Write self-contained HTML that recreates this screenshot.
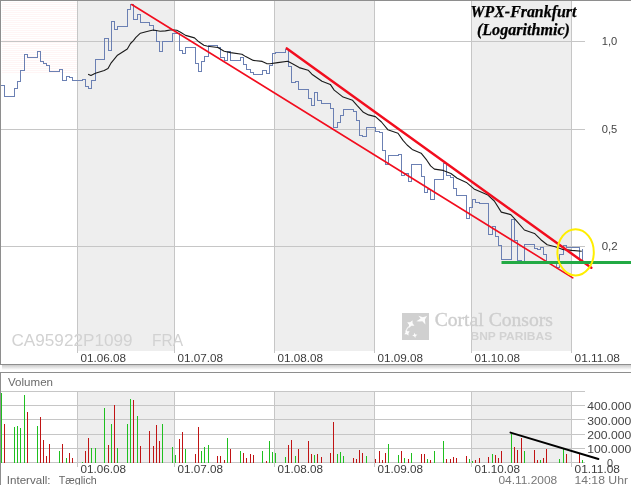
<!DOCTYPE html>
<html><head><meta charset="utf-8"><title>WPX-Frankfurt</title>
<style>html,body{margin:0;padding:0;background:#fff;overflow:hidden}body{width:631px;height:485px;position:relative;font-family:"Liberation Sans",sans-serif}</style></head>
<body>
<svg width="631" height="485" viewBox="0 0 631 485" style="position:absolute;left:0;top:0;display:block;will-change:transform" shape-rendering="auto">
<rect x="0" y="0" width="631" height="485" fill="#fff"/>
<defs><pattern id="pk" x="0" y="0" width="4" height="2" patternUnits="userSpaceOnUse"><rect x="0" y="0" width="4" height="1" fill="#fff5f5"/></pattern></defs>
<rect x="2" y="2" width="75" height="72" fill="url(#pk)"/>
<rect x="78" y="1" width="96" height="350" fill="#eeeeee"/>
<rect x="78" y="392" width="96" height="71" fill="#eeeeee"/>
<rect x="275" y="1" width="99" height="350" fill="#eeeeee"/>
<rect x="275" y="392" width="99" height="71" fill="#eeeeee"/>
<rect x="472" y="1" width="99" height="350" fill="#eeeeee"/>
<rect x="472" y="392" width="99" height="71" fill="#eeeeee"/>
<g stroke="#c6c6c6" stroke-width="1" fill="none" shape-rendering="crispEdges">
<path d="M1,41.5H585"/>
<path d="M1,129.5H585"/>
<path d="M1,246.5H585"/>
<path d="M77.5,1V353"/>
<path d="M77.5,391V467"/>
<path d="M174.5,1V353"/>
<path d="M174.5,391V467"/>
<path d="M274.5,1V353"/>
<path d="M274.5,391V467"/>
<path d="M374.5,1V353"/>
<path d="M374.5,391V467"/>
<path d="M471.5,1V353"/>
<path d="M471.5,391V467"/>
<path d="M571.5,1V353"/>
<path d="M571.5,391V467"/>
<path d="M1,391.5H585"/>
<path d="M1,405.5H585"/>
<path d="M1,419.5H585"/>
<path d="M1,434.5H585"/>
<path d="M1,448.5H585"/>
<path d="M1,462.5H585"/>
</g>
<g stroke="#8e8e8e" stroke-width="1" fill="none" shape-rendering="crispEdges">
<path d="M0,0.5H631"/><path d="M0.5,0V365"/><path d="M0,364.5H631"/>
<path d="M0,372.5H631"/><path d="M0.5,372V485"/>
</g>
<defs><linearGradient id="sh" x1="0" y1="0" x2="0" y2="1"><stop offset="0" stop-color="#cbcbcb"/><stop offset="1" stop-color="#ffffff"/></linearGradient></defs>
<rect x="2" y="365" width="629" height="5" fill="url(#sh)"/>
<g fill="#d2d2d2" font-family="'Liberation Sans', sans-serif">
<text x="11.5" y="345.5" font-size="16" textLength="121" lengthAdjust="spacingAndGlyphs">CA95922P1099</text>
<text x="152" y="345.5" font-size="16" textLength="31" lengthAdjust="spacingAndGlyphs">FRA</text>
</g>
<rect x="402" y="313" width="27" height="27" fill="#d0d0d0"/>
<g fill="#fff" opacity="0.95">
<path d="M416.4,321.2L420.6,318.6L418.4,315.8L422.8,317.2L427.1,316L424.9,319.6L425.4,324.4L422.4,321.2L419.5,321.6z"/>
<path d="M414.43,325.69L411.45,325.79L409.11,327.63L409.01,324.65L407.17,322.31L410.15,322.21L412.49,320.37L412.59,323.35z"/>
<path d="M408.50,335.40L406.61,334.25L404.40,334.30L405.55,332.41L405.50,330.20L407.39,331.35L409.60,331.30L408.45,333.19z"/>
<path d="M417.46,334.83L415.70,335.93L415.27,337.96L414.17,336.20L412.14,335.77L413.90,334.67L414.33,332.64L415.43,334.40z"/>
</g>
<path d="M409.2,326.5Q405.6,329.5 406.6,332" stroke="#fff" stroke-width="1.2" fill="none" opacity="0.75"/>
<text x="434.7" y="325.8" font-family="'Liberation Serif', serif" font-size="19" fill="#cecece" stroke="#cecece" stroke-width="0.35" textLength="118.3" lengthAdjust="spacingAndGlyphs">Cortal Consors</text>
<text x="470.5" y="339.6" font-family="'Liberation Sans', sans-serif" font-weight="bold" font-size="10" fill="#d2d2d2" textLength="81.7" lengthAdjust="spacingAndGlyphs">BNP PARIBAS</text>
<path d="M0.5,85.5H4.5V96.5H14.5V88.5H17.5V81.5H20.5V70.5H24.5V54.5H27.5V57.5H37.5V51.5H40.5V61.5H43.5V63.5H46.5V65.5H49.5V71.5H59.5V69.5H62.5V80.5H66.5V76.5H69.5V77.5H72.5V80.5H82.5V79.5H85.5V86.5H88.5V88.5H91.5V80.5H95.5V59.5H104.5V38.5H108.5V50.5H111.5V21.5H114.5V29.5H117.5V26.5H127.5V9.5H130.5V4.5H133.5V19.5H137.5V14.5H140.5V22.5H149.5V25.5H153.5V30.5H156.5V41.5H159.5V51.5H162.5V41.5H172.5V33.5H179.5V50.5H182.5V53.5H185.5V47.5H195.5V63.5H198.5V71.5H201.5V61.5H204.5V56.5H208.5V45.5H217.5V47.5H220.5V57.5H224.5V60.5H227.5V51.5H230.5V60.5H240.5V57.5H243.5V64.5H246.5V69.5H250.5V72.5H253.5V74.5H262.5V70.5H266.5V73.5H269.5V65.5H272.5V53.5H275.5V52.5H285.5V49.5H288.5V66.5H291.5V82.5H295.5V81.5H298.5V89.5H308.5V98.5H311.5V105.5H314.5V92.5H317.5V100.5H321.5V103.5H330.5V108.5H333.5V127.5H337.5V122.5H340.5V115.5H343.5V109.5H353.5V111.5H356.5V120.5H359.5V135.5H362.5V136.5H366.5V127.5H375.5V131.5H379.5V132.5H382.5V150.5H385.5V164.5H388.5V155.5H398.5V154.5H401.5V175.5H404.5V173.5H408.5V181.5H411.5V164.5H421.5V176.5H424.5V192.5H427.5V189.5H430.5V199.5H434.5V179.5H443.5V163.5H446.5V175.5H450.5V177.5H453.5V188.5H456.5V195.5H466.5V218.5H469.5V207.5H472.5V199.5H475.5V202.5H479.5V203.5H488.5V234.5H492.5V226.5H495.5V236.5H498.5V245.5H501.5V259.5H511.5V219.5H514.5V240.5H517.5V260.5H521.5V262.5H524.5V244.5H534.5V248.5H537.5V249.5H540.5V247.5H543.5V254.5H546.5V262.5H556.5V267.5H559.5V254.5H563.5V245.5H566.5V247.5H579.5V262.5H582.5V248.5" fill="none" stroke="#6b80b3" stroke-width="1" shape-rendering="crispEdges"/>
<path d="M88.1,74.2 L90.9,75.5 L95.4,73.2 L104.2,70.4 L108,68.5 L111.2,62.8 L117.5,55.2 L127.3,49 L130.5,43.5 L133.4,40.6 L135.9,37.4 L140.4,33.2 L146,31.7 L150,30.8 L153.3,30 L160.3,31.3 L165.4,30.9 L171.7,29.7 L176.8,30.3 L180.6,32.2 L185.6,35.4 L194.5,37.9 L198.8,41.8 L203.9,45.2 L207.7,46.2 L217.8,47.5 L224.2,51.3 L230.5,52.6 L241.9,54.3 L245.7,56.6 L253.3,60.4 L262.2,61.4 L266.6,63.6 L270,63.8 L277.7,62.6 L287.8,61.3 L292.9,64.1 L299.2,67.6 L308.1,70.2 L311.9,74.2 L322,81.2 L330.3,84.4 L334.2,90.1 L343.1,97.1 L352.6,100.3 L357,105.4 L363.4,112.3 L368.5,114.9 L375.4,116.6 L381.5,122 L387.8,129.7 L398,133.2 L403,140.4 L407.1,145 L412.2,149.4 L421.1,153.2 L426.8,160.2 L430.6,165.9 L434.4,169.1 L443.2,170.4 L450.9,173.5 L457.2,178.2 L466.4,182.4 L474,188.9 L487.3,194.7 L494.3,201 L501.3,212.1 L510.8,214.6 L515.2,219.4 L524.4,230 L534.5,233.4 L540.9,239.7 L547.2,244.8 L555.2,246.8 L562.8,249.4 L571.7,250.4 L581.8,251.3" fill="none" stroke="#1a1a1a" stroke-width="1.1" stroke-linejoin="round"/>
<path d="M131.7,4.5L572.8,277.9" stroke="#f20d1e" stroke-width="1.6" fill="none" stroke-linecap="round"/>
<path d="M286.8,48.4L591.3,267.8" stroke="#f20d1e" stroke-width="2.5" fill="none" stroke-linecap="round"/>
<rect x="501.5" y="261" width="129.5" height="3" fill="#22aa44"/>
<ellipse cx="575.6" cy="252.3" rx="18.2" ry="23.1" fill="none" stroke="#ffee00" stroke-width="2"/>
<path d="M1.5,393V463M14.5,427V463M17.5,426V463M20.5,428V463M24.5,395V463M37.5,426V463M59.5,451V463M66.5,458V463M82.5,462V463M91.5,448V463M95.5,448V463M104.5,408V463M111.5,424V463M117.5,448V463M127.5,424V463M130.5,399V463M137.5,416V463M162.5,424V463M172.5,447V463M175.5,455V463M185.5,449V463M201.5,451V463M204.5,447V463M208.5,445V463M227.5,438V463M240.5,451V463M262.5,451V463M269.5,441V463M272.5,452V463M275.5,453V463M285.5,457V463M295.5,456V463M314.5,455V463M337.5,454V463M340.5,452V463M343.5,456V463M366.5,456V463M388.5,444V463M398.5,455V463M404.5,458V463M411.5,453V463M427.5,459V463M434.5,451V463M443.5,441V463M469.5,459V463M472.5,461V463M492.5,454V463M511.5,434V463M524.5,451V463M540.5,460V463M559.5,459V463M563.5,449V463M582.5,460V463" stroke="#1fc01f" stroke-width="1" fill="none" shape-rendering="crispEdges"/>
<path d="M4.5,424V463M27.5,412V463M40.5,417V463M43.5,440V463M46.5,456V463M49.5,444V463M62.5,444V463M69.5,453V463M72.5,458V463M85.5,451V463M88.5,438V463M108.5,445V463M114.5,405V463M133.5,400V463M140.5,446V463M149.5,431V463M153.5,446V463M156.5,425V463M159.5,441V463M179.5,439V463M182.5,432V463M195.5,454V463M198.5,427V463M217.5,456V463M220.5,456V463M224.5,460V463M230.5,449V463M243.5,453V463M246.5,458V463M250.5,454V463M253.5,455V463M266.5,461V463M288.5,445V463M291.5,440V463M298.5,449V463M308.5,441V463M311.5,454V463M317.5,454V463M321.5,457V463M330.5,453V463M333.5,422V463M353.5,458V463M356.5,459V463M359.5,450V463M362.5,453V463M375.5,459V463M379.5,451V463M382.5,460V463M385.5,453V463M401.5,451V463M408.5,459V463M421.5,454V463M424.5,454V463M430.5,460V463M446.5,459V463M450.5,459V463M453.5,457V463M456.5,458V463M466.5,456V463M475.5,460V463M479.5,458V463M488.5,457V463M495.5,455V463M498.5,458V463M501.5,451V463M514.5,447V463M517.5,450V463M521.5,438V463M534.5,450V463M537.5,460V463M543.5,458V463M546.5,449V463M566.5,454V463M579.5,454V463" stroke="#c01414" stroke-width="1" fill="none" shape-rendering="crispEdges"/>
<path d="M510.5,432.6L598.4,459" stroke="#000" stroke-width="2" fill="none" stroke-linecap="round"/>
<text x="601.7" y="45" font-family="'Liberation Sans', sans-serif" font-size="10.2" fill="#444" textLength="15.5" lengthAdjust="spacingAndGlyphs">1,0</text>
<text x="601.7" y="133" font-family="'Liberation Sans', sans-serif" font-size="10.2" fill="#444" textLength="15.5" lengthAdjust="spacingAndGlyphs">0,5</text>
<text x="601.7" y="249.7" font-family="'Liberation Sans', sans-serif" font-size="10.2" fill="#444" textLength="16" lengthAdjust="spacingAndGlyphs">0,2</text>
<text x="80.5" y="361.7" font-family="'Liberation Sans', sans-serif" font-size="10.2" fill="#3c3c3c" textLength="45.5" lengthAdjust="spacingAndGlyphs">01.06.08</text>
<text x="80.5" y="472.5" font-family="'Liberation Sans', sans-serif" font-size="10.2" fill="#3c3c3c" textLength="45.5" lengthAdjust="spacingAndGlyphs">01.06.08</text>
<text x="177.5" y="361.7" font-family="'Liberation Sans', sans-serif" font-size="10.2" fill="#3c3c3c" textLength="45.5" lengthAdjust="spacingAndGlyphs">01.07.08</text>
<text x="177.5" y="472.5" font-family="'Liberation Sans', sans-serif" font-size="10.2" fill="#3c3c3c" textLength="45.5" lengthAdjust="spacingAndGlyphs">01.07.08</text>
<text x="277.5" y="361.7" font-family="'Liberation Sans', sans-serif" font-size="10.2" fill="#3c3c3c" textLength="45.5" lengthAdjust="spacingAndGlyphs">01.08.08</text>
<text x="277.5" y="472.5" font-family="'Liberation Sans', sans-serif" font-size="10.2" fill="#3c3c3c" textLength="45.5" lengthAdjust="spacingAndGlyphs">01.08.08</text>
<text x="377.5" y="361.7" font-family="'Liberation Sans', sans-serif" font-size="10.2" fill="#3c3c3c" textLength="45.5" lengthAdjust="spacingAndGlyphs">01.09.08</text>
<text x="377.5" y="472.5" font-family="'Liberation Sans', sans-serif" font-size="10.2" fill="#3c3c3c" textLength="45.5" lengthAdjust="spacingAndGlyphs">01.09.08</text>
<text x="474.5" y="361.7" font-family="'Liberation Sans', sans-serif" font-size="10.2" fill="#3c3c3c" textLength="45.5" lengthAdjust="spacingAndGlyphs">01.10.08</text>
<text x="474.5" y="472.5" font-family="'Liberation Sans', sans-serif" font-size="10.2" fill="#3c3c3c" textLength="45.5" lengthAdjust="spacingAndGlyphs">01.10.08</text>
<text x="574.5" y="361.7" font-family="'Liberation Sans', sans-serif" font-size="10.2" fill="#3c3c3c" textLength="45.5" lengthAdjust="spacingAndGlyphs">01.11.08</text>
<text x="574.5" y="472.5" font-family="'Liberation Sans', sans-serif" font-size="10.2" fill="#3c3c3c" textLength="45.5" lengthAdjust="spacingAndGlyphs">01.11.08</text>
<text x="8" y="385.8" font-family="'Liberation Sans', sans-serif" font-size="10.2" fill="#6a6a6a" textLength="45" lengthAdjust="spacingAndGlyphs">Volumen</text>
<text x="587.3" y="410.4" font-family="'Liberation Sans', sans-serif" font-size="10.2" fill="#444" textLength="44" lengthAdjust="spacingAndGlyphs">400.000</text>
<text x="587.3" y="424.5" font-family="'Liberation Sans', sans-serif" font-size="10.2" fill="#444" textLength="44" lengthAdjust="spacingAndGlyphs">300.000</text>
<text x="587.3" y="439" font-family="'Liberation Sans', sans-serif" font-size="10.2" fill="#444" textLength="44" lengthAdjust="spacingAndGlyphs">200.000</text>
<text x="587.3" y="453" font-family="'Liberation Sans', sans-serif" font-size="10.2" fill="#444" textLength="44" lengthAdjust="spacingAndGlyphs">100.000</text>
<text x="607" y="467.2" font-family="'Liberation Sans', sans-serif" font-size="10.2" fill="#444" textLength="6" lengthAdjust="spacingAndGlyphs">0</text>
<text x="6.8" y="483.6" font-family="'Liberation Sans', sans-serif" font-size="10.2" fill="#666" textLength="43.7" lengthAdjust="spacingAndGlyphs">Intervall:</text>
<text x="58.7" y="483.6" font-family="'Liberation Sans', sans-serif" font-size="10.2" fill="#666" textLength="38.1" lengthAdjust="spacingAndGlyphs">Tæglich</text>
<text x="498.4" y="483.8" font-family="'Liberation Sans', sans-serif" font-size="10.2" fill="#777" textLength="58.8" lengthAdjust="spacingAndGlyphs">04.11.2008</text>
<text x="574.4" y="483.8" font-family="'Liberation Sans', sans-serif" font-size="10.2" fill="#777" textLength="53.6" lengthAdjust="spacingAndGlyphs">14:18 Uhr</text>
<g font-family="'Liberation Serif', serif" font-weight="bold" font-style="italic" font-size="16" fill="#000" stroke="#000" stroke-width="0.25" text-anchor="middle">
<text x="523.4" y="17.1" textLength="106" lengthAdjust="spacingAndGlyphs">WPX-Frankfurt</text>
<text x="523.4" y="35.2" textLength="93" lengthAdjust="spacingAndGlyphs">(Logarithmic)</text>
</g>
</svg>
</body></html>
